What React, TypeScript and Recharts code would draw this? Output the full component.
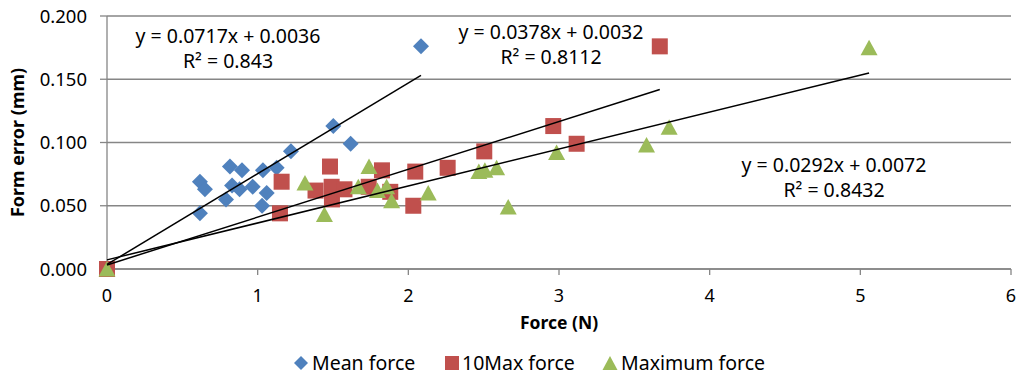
import { ScatterChart, Scatter, XAxis, YAxis, CartesianGrid } from 'recharts';

// Mean force
const meanX = [0, 0.617, 0.65, 0.617, 0.816, 0.83, 0.79, 0.896, 0.88, 0.967, 1.035, 1.029, 1.06, 1.126, 1.221, 1.502, 1.617, 2.084];
const meanY = [0, 0.069, 0.063, 0.044, 0.081, 0.066, 0.055, 0.078, 0.063, 0.065, 0.078, 0.050, 0.060, 0.080, 0.093, 0.113, 0.099, 0.176];

// 10Max force
const tenMaxX = [0, 1.159, 1.148, 1.48, 1.384, 1.491, 1.493, 1.576, 1.825, 1.737, 1.88, 2.046, 2.033, 2.261, 2.504, 2.962, 3.117, 3.669];
const tenMaxY = [0, 0.069, 0.044, 0.081, 0.062, 0.065, 0.055, 0.063, 0.078, 0.065, 0.061, 0.077, 0.050, 0.080, 0.093, 0.113, 0.099, 0.176];

// Maximum force
const maxX = [0, 1.314, 1.443, 1.739, 1.668, 1.795, 1.856, 1.889, 2.132, 2.468, 2.508, 2.586, 2.663, 2.984, 3.581, 3.731, 5.058];
const maxY = [0, 0.068, 0.043, 0.081, 0.065, 0.062, 0.065, 0.054, 0.060, 0.077, 0.078, 0.080, 0.049, 0.092, 0.098, 0.112, 0.175];

// linear trendlines (Excel)
const slopes = [0.0717, 0.0378, 0.0292];
const intercepts = [0.0036, 0.0032, 0.0072];
const r2 = ['0.843', '0.8112', '0.8432'];

const xTicks = [0, 1, 2, 3, 4, 5, 6];
const yTicks = [0, 0.05, 0.1, 0.15, 0.2];

const BLUE = '#4F81BD';
const RED = '#C0504D';
const GREEN = '#9BBB59';
const AXIS = '#868686';
const FONT = '"Noto Sans", sans-serif';

const toPoints = (xs: number[], ys: number[]) => xs.map((x, i) => ({ x, y: ys[i] }));

const trend = (xs: number[], i: number) => {
  const end = Math.max(...xs);
  return [
    { x: 0, y: intercepts[i] },
    { x: end, y: slopes[i] * end + intercepts[i] },
  ];
};

const Diamond = (p: any) => (
  <polygon
    points={`${p.cx},${p.cy - 8} ${p.cx + 8},${p.cy} ${p.cx},${p.cy + 8} ${p.cx - 8},${p.cy}`}
    fill={BLUE}
  />
);

const Square = (p: any) => <rect x={p.cx - 8} y={p.cy - 8} width={16} height={16} fill={RED} />;

const Triangle = (p: any) => (
  <polygon
    points={`${p.cx},${p.cy - 8} ${p.cx + 8.5},${p.cy + 7.5} ${p.cx - 8.5},${p.cy + 7.5}`}
    fill={GREEN}
  />
);

const NoDot = () => <g />;

const eqStyle = (left: number, top: number): React.CSSProperties => ({
  position: 'absolute',
  left: left - 130,
  top,
  width: 260,
  textAlign: 'center',
  fontFamily: FONT,
  fontSize: 19.5,
  lineHeight: '25px',
  color: '#000',
});

const Equation = ({ i, cx, top }: { i: number; cx: number; top: number }) => (
  <div style={eqStyle(cx, top)}>
    <div>{`y = ${slopes[i]}x + ${intercepts[i]}`}</div>
    <div>{`R² = ${r2[i]}`}</div>
  </div>
);

const legendText: React.CSSProperties = {
  position: 'absolute',
  top: 350,
  fontFamily: FONT,
  fontSize: 19.5,
  lineHeight: '25px',
  color: '#000',
  whiteSpace: 'nowrap',
};

const App = () => {
  return (
    <div style={{ position: 'absolute', left: 0, top: 0, width: 1024, height: 379, background: '#fff' }}>
      <ScatterChart width={1024} height={379} margin={{ top: 16, right: 13, bottom: 50, left: 0 }}>
        <CartesianGrid vertical={false} stroke={AXIS} strokeWidth={1.3} />
        <XAxis
          type="number"
          dataKey="x"
          domain={[0, 6]}
          ticks={xTicks}
          height={60}
          tickSize={6}
          tickMargin={14}
          stroke={AXIS}
          strokeWidth={1.3}
          tick={{ fill: '#000', fontSize: 18, fontFamily: FONT }}
          label={({ viewBox }: any) => (
            <text
              x={viewBox.x + viewBox.width / 2}
              y={329}
              textAnchor="middle"
              fontFamily={FONT}
              fontSize={17.5}
              fontWeight="bold"
              fill="#000"
            >
              Force (N)
            </text>
          )}
        />
        <YAxis
          type="number"
          dataKey="y"
          domain={[0, 0.2]}
          ticks={yTicks}
          width={107}
          tickSize={7}
          tickMargin={13}
          stroke={AXIS}
          strokeWidth={1.3}
          tickFormatter={(v: number) => v.toFixed(3)}
          tick={{ fill: '#000', fontSize: 18.5, fontFamily: FONT }}
          label={({ viewBox }: any) => (
            <text
              x={17}
              y={viewBox.y + viewBox.height / 2}
              textAnchor="middle"
              dominantBaseline="central"
              transform={`rotate(-90, 17, ${viewBox.y + viewBox.height / 2})`}
              fontFamily={FONT}
              fontSize={18}
              fontWeight="bold"
              fill="#000"
            >
              Form error (mm)
            </text>
          )}
        />
        <Scatter name="Mean force" data={toPoints(meanX, meanY)} shape={Diamond} isAnimationActive={false} />
        <Scatter name="10Max force" data={toPoints(tenMaxX, tenMaxY)} shape={Square} isAnimationActive={false} />
        <Scatter name="Maximum force" data={toPoints(maxX, maxY)} shape={Triangle} isAnimationActive={false} />
        <Scatter data={trend(meanX, 0)} shape={NoDot} line={{ stroke: '#000', strokeWidth: 1.5 }} legendType="none" isAnimationActive={false} />
        <Scatter data={trend(tenMaxX, 1)} shape={NoDot} line={{ stroke: '#000', strokeWidth: 1.5 }} legendType="none" isAnimationActive={false} />
        <Scatter data={trend(maxX, 2)} shape={NoDot} line={{ stroke: '#000', strokeWidth: 1.5 }} legendType="none" isAnimationActive={false} />
      </ScatterChart>

      <Equation i={0} cx={228} top={23} />
      <Equation i={1} cx={551} top={19} />
      <Equation i={2} cx={834} top={152} />

      {/* legend */}
      <svg style={{ position: 'absolute', left: 0, top: 352, width: 1024, height: 22 }}>
        <polygon points="301,4 308,11 301,18 294,11" fill={BLUE} />
        <rect x={445} y={4} width={14} height={14} fill={RED} />
        <polygon points="610,4 617.5,18 602.5,18" fill={GREEN} />
      </svg>
      <div style={{ ...legendText, left: 312 }}>Mean force</div>
      <div style={{ ...legendText, left: 462 }}>10Max force</div>
      <div style={{ ...legendText, left: 621 }}>Maximum force</div>
    </div>
  );
};

export default App;
